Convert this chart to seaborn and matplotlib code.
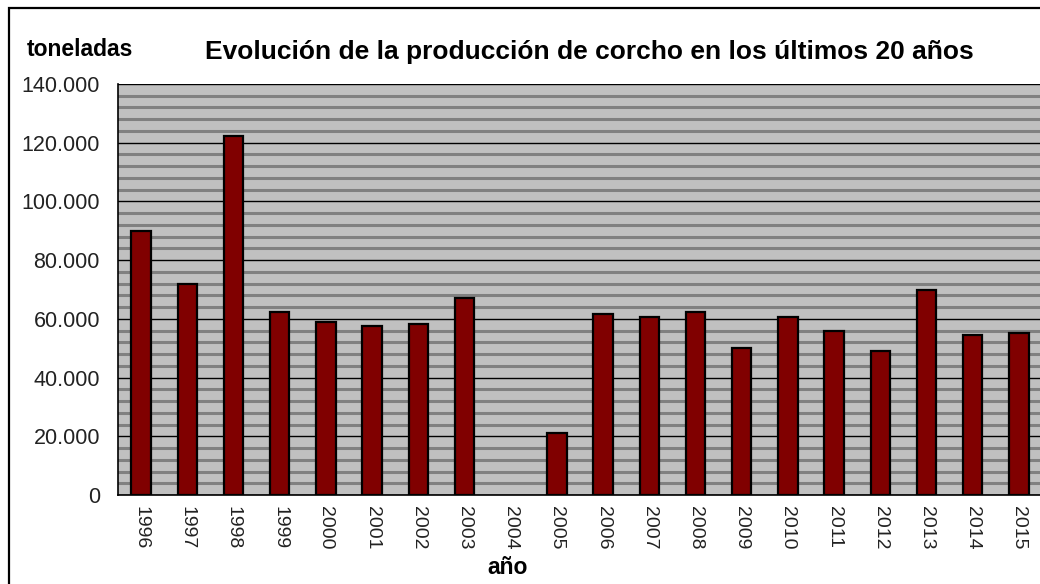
import numpy as np
import pandas as pd
import matplotlib
matplotlib.use("Agg")
import matplotlib.pyplot as plt
import seaborn as sns
from matplotlib.ticker import MultipleLocator, FuncFormatter, FixedLocator
from matplotlib.patches import Rectangle

years = ["1996", "1997", "1998", "1999", "2000", "2001", "2002", "2003", "2004", "2005",
         "2006", "2007", "2008", "2009", "2010", "2011", "2012", "2013", "2014", "2015"]
toneladas = [90000, 72000, 122300, 62300, 58900, 57600, 58100, 67100, np.nan, 21000,
             61600, 60700, 62400, 50200, 60700, 55900, 48900, 69800, 54600, 55100]

title = "Evolución de la producción de corcho en los últimos 20 años"
ylabel = "toneladas"
xlabel = "año"

sns.set_theme(style="white")
plt.rcParams["font.family"] = ["Liberation Sans", "DejaVu Sans"]

df = pd.DataFrame({"year": years, "value": toneladas})

fig = plt.figure(figsize=(10.4, 5.84), dpi=100)
ax = fig.add_axes([118 / 1040, 1 - 495 / 584, (1042 - 118) / 1040, (495 - 84) / 584])

sns.barplot(data=df, x="year", y="value", color="#800000", saturation=1,
            edgecolor="black", linewidth=1.6, width=0.42, ax=ax, errorbar=None)

ax.set_facecolor("#C0C0C0")
ax.set_xlim(-0.5, len(years) - 0.5)
ax.set_ylim(0, 140000)
ax.yaxis.set_major_locator(MultipleLocator(20000))
ax.yaxis.set_minor_locator(MultipleLocator(4000))
ax.yaxis.set_major_formatter(FuncFormatter(lambda v, p: f"{int(v):,}".replace(",", ".")))
ax.set_axisbelow(True)
ax.grid(which="minor", axis="y", color="#808080", linewidth=2.2)
ax.grid(which="major", axis="y", color="black", linewidth=1.0)
ax.grid(False, axis="x", which="both")

ax.xaxis.set_minor_locator(FixedLocator(np.arange(-0.5, len(years), 1.0)))
ax.tick_params(axis="x", which="major", length=0, pad=8, labelsize=14, labelrotation=270,
               labelcolor="#222222")
ax.tick_params(axis="x", which="minor", length=7, width=1.2, color="black", direction="out")
ax.tick_params(axis="y", which="major", length=7, width=1.2, color="black", direction="out",
               labelsize=15.5, pad=6, labelcolor="#222222")
ax.tick_params(axis="y", which="minor", length=0)

for lab in ax.get_xticklabels():
    lab.set_va("top")
    lab.set_ha("center")

ax.set_xlabel("")
ax.set_ylabel("")
for side in ["top", "right"]:
    ax.spines[side].set_visible(False)
for side in ["left", "bottom"]:
    ax.spines[side].set_visible(True)
    ax.spines[side].set_color("black")
    ax.spines[side].set_linewidth(1.2)

fig.text(589 / 1040, 1 - 52 / 584, title, ha="center", va="center",
         fontsize=19, fontweight="bold", color="black")
fig.text(27 / 1040, 1 - 50 / 584, ylabel, ha="left", va="center",
         fontsize=16.5, fontweight="bold", color="black")
fig.text(508 / 1040, 1 - 568 / 584, xlabel, ha="center", va="center",
         fontsize=16.5, fontweight="bold", color="black")

fig.patches.append(Rectangle((9 / 1040, -0.1), 1.2, 1.1 - 8 / 584, transform=fig.transFigure,
                             fill=False, edgecolor="black", linewidth=1.6, zorder=10))

fig.savefig("out.png", dpi=100, facecolor="white")
